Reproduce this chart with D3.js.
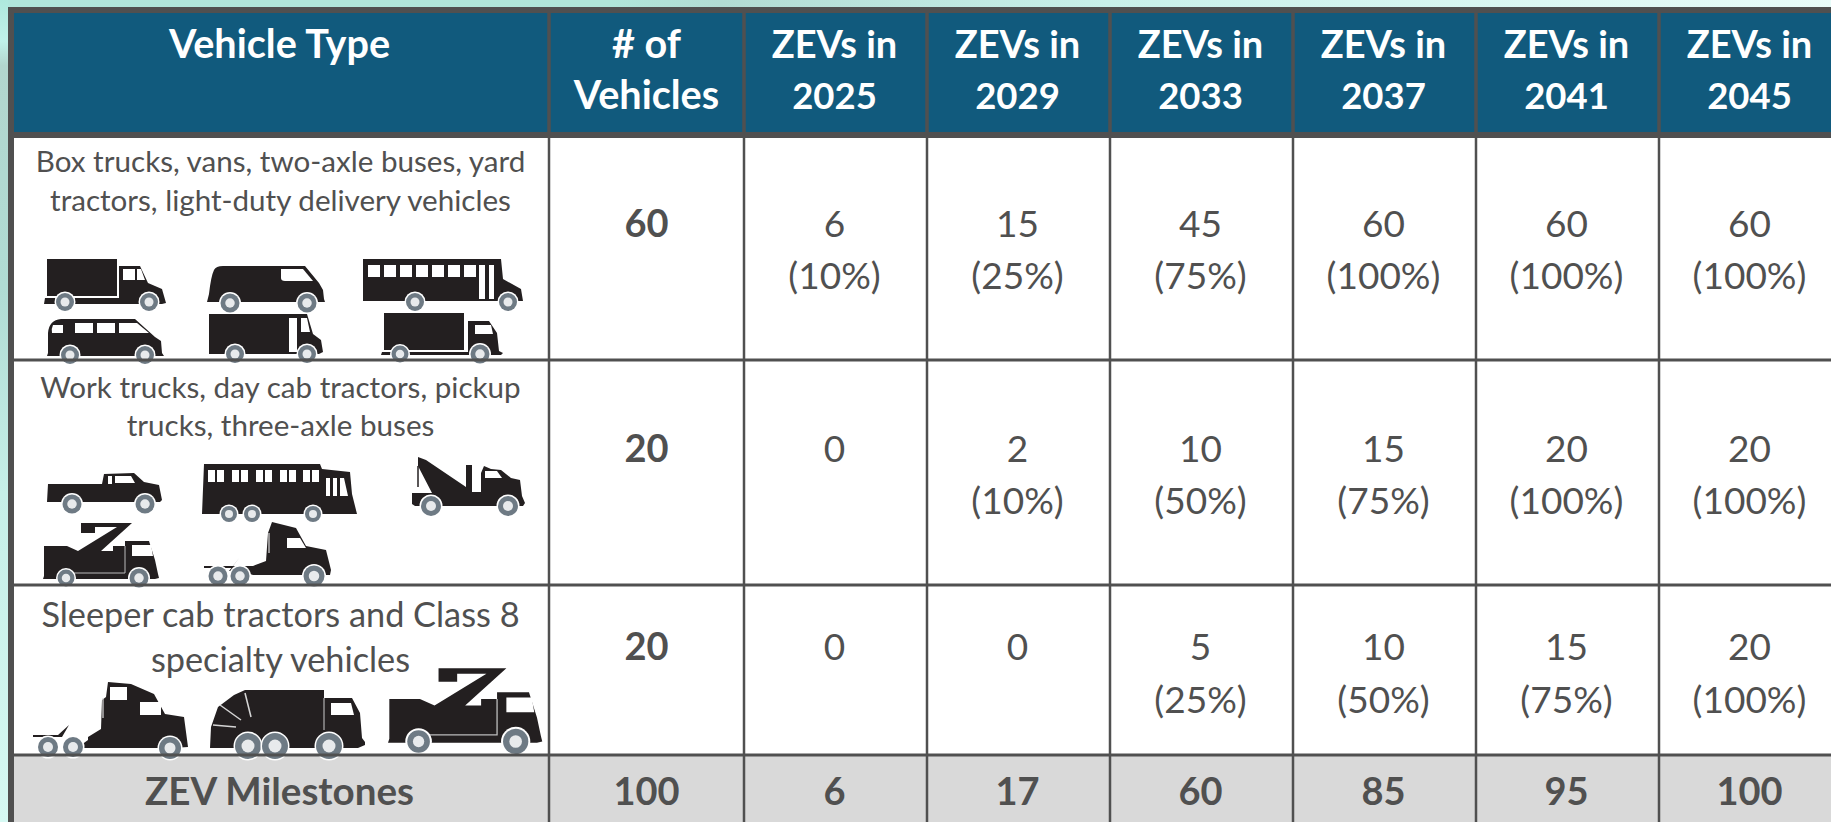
<!doctype html>
<html>
<head>
<meta charset="utf-8">
<title>ZEV Milestones</title>
<style>
  body { margin: 0; padding: 0; overflow: hidden; background: #c8f1ea; }
  svg { display: block; }
  text { font-family: Lato, "Open Sans", sans-serif; text-anchor: middle; fill: #505050; }
  .head { fill: #fff; font-weight: 700; font-size: 38px; }
  .headType { font-size: 39.6px; }
  .headYear { font-size: 36.5px; }
  .num { font-size: 37px; }
  .bold { font-weight: 700; font-size: 38px; }
  .label { font-weight: 700; font-size: 38.6px; }
  .type { font-size: 29.6px; }
  .type3 { font-size: 34.3px; }
</style>
</head>
<body>
<svg id="chart" width="1831" height="822"></svg>
<script src="https://d3js.org/d3.v7.min.js"></script>
<script>
var years = [2025, 2029, 2033, 2037, 2041, 2045];
var typeLines = [
    ["Box trucks, vans, two-axle buses, yard", "tractors, light-duty delivery vehicles"],
    ["Work trucks, day cab tractors, pickup", "trucks, three-axle buses"],
    ["Sleeper cab tractors and Class 8", "specialty vehicles"]
];
var fleet = [60, 20, 20];
var zevCounts = [
    [6, 15, 45, 60, 60, 60],
    [0, 2, 10, 15, 20, 20],
    [0, 0, 5, 10, 15, 20]
];
var zevPercents = [
    [10, 25, 75, 100, 100, 100],
    [null, 10, 50, 75, 100, 100],
    [null, null, 25, 50, 75, 100]
];
var totalLabel = "ZEV Milestones";
var totalFleet = 100;
var milestones = [6, 17, 60, 85, 95, 100];

var svg = d3.select("#chart");
var W = 1831, H = 822;

// background behind the table
var defs = svg.append("defs");
var bgGrad = defs.append("linearGradient").attr("id", "bg").attr("x1", 0).attr("y1", 0).attr("x2", 0).attr("y2", 1);
[["0%", "#aee8dd"], ["5%", "#c0f2ea"], ["8%", "#b2d6ce"], ["35%", "#b0dcd4"], ["60%", "#c6efe8"], ["100%", "#d6f9f3"]].forEach(function(s) {
    bgGrad.append("stop").attr("offset", s[0]).attr("stop-color", s[1]);
});
var topGrad = defs.append("linearGradient").attr("id", "bgTop");
[["0%", "#b0e6dc"], ["33%", "#b0e6da"], ["39%", "#b2dcd4"], ["60%", "#c8f0ea"], ["100%", "#e8fcf9"]].forEach(function(s) {
    topGrad.append("stop").attr("offset", s[0]).attr("stop-color", s[1]);
});
svg.append("rect").attr("width", W).attr("height", H).attr("fill", "url(#bg)");
svg.append("rect").attr("x", 8).attr("width", W).attr("height", 8).attr("fill", "url(#bgTop)");

// table layout
var x = d3.scaleBand().domain(years).range([744, 1842]);
var rowEdges = [135, 360, 585, 755, 830];
var typeX = (14 + 549) / 2;
var fleetX = (549 + 744) / 2;
var lineColor = "#505050";

// cell fills
svg.append("rect").attr("x", 11).attr("y", 10).attr("width", W).attr("height", H).attr("fill", "#fff");
svg.append("rect").attr("x", 11).attr("y", 10).attr("width", W).attr("height", rowEdges[0] - 10).attr("fill", "#115a7d");
svg.append("rect").attr("x", 11).attr("y", rowEdges[3]).attr("width", W).attr("height", H - rowEdges[3]).attr("fill", "#d9d9d9");

// icons are drawn in their own pixel box, then placed by bounding box
var DARK = "#231f20";
function wheels(g, list) {
    list.forEach(function(w) {
        g.append("circle").attr("cx", w[0]).attr("cy", w[1]).attr("r", w[2] + 1.5).attr("fill", "#fff");
        g.append("circle").attr("cx", w[0]).attr("cy", w[1]).attr("r", w[2]).attr("fill", "#6e7a84");
        g.append("circle").attr("cx", w[0]).attr("cy", w[1]).attr("r", w[2] * 0.5).attr("fill", "#e8eaec");
    });
}
function icon(w, h, body, windows, wheelList, creases) {
    return { w: w, h: h, body: body, windows: windows, wheels: wheelList, creases: creases };
}
function squares(startX, y, size, gap, n, h) {
    return d3.range(n).map(function(i) {
        var a = startX + i * (size + gap);
        return "M" + a + "," + y + "h" + size + "v" + (h || size) + "h-" + size + "z";
    }).join("");
}
var craneBody = "M38,1H89L58,29H70V24H82V19H106L112,38L115,52L116,56L112,57H0L1,54V24H24L35,29L74,5H52V11H38Z";
var icons = {
    boxTruck: icon(123, 52,
        "M3,0H73V37H3ZM75,37V7H96L104,24L118,30L122,44L118,45H0L1,39H75Z",
        "M79,10H91V21H79ZM93,10H97L101,21H93Z",
        [[21, 43, 9], [105, 43, 9]]),
    van: icon(118, 46,
        "M2,28Q4,10 7,4Q9,0 16,0H98L112,17L116,24L117,33L118,36H0Z",
        "M74,3H96L106,15H78Q74,15 74,12Z",
        [[23, 37, 9.5], [100, 37, 9.5]]),
    bus: icon(160, 52,
        "M0,0H138L140,20L158,30L160,42H0Z",
        squares(5, 6, 12, 4, 7) + "M116,6H122V40H116ZM126,6H131V40H126Z",
        [[52, 43, 9], [145, 43, 9]]),
    windowVan: icon(117, 44,
        "M1,34L1,14Q2,1 14,0H88L108,18L114,22L115,34L117,37H0Z",
        "M6,6H16V14H5Q4,10 6,6ZM28,4H46V14H28ZM50,4H68V14H50ZM72,4H90L102,14H72Z",
        [[23, 36, 9], [98, 36, 9]]),
    stepVan: icon(114, 48,
        "M0,0H98L104,20L112,26L114,38L110,40H0Z",
        "M80,4H88V38H80ZM92,4H98L101,18H92Z",
        [[26, 40, 9], [98, 40, 9]]),
    boxTruck2: icon(122, 49,
        "M3,0H83V37H3ZM87,8H108L116,20L118,38L122,40L120,42H0L1,39H87Z",
        "M94,12H110L112,21H94Z",
        [[19, 41, 8.5], [99, 41, 9.5]]),
    pickup: icon(114, 41,
        "M1,12H55L57,2L87,1L97,10L112,13L115,28L113,30H0Z",
        "M61,4H65V12H61ZM68,4H84L88,11H68Z",
        [[25, 32, 9.5], [98, 32, 9.5]]),
    bus3: icon(155, 58,
        "M2,0H118L120,5L148,8L150,30L155,50H0Z",
        squares(6, 6, 7, 2, 2, 12) + squares(30, 6, 7, 2, 2, 12) + squares(54, 6, 7, 2, 2, 12) + squares(78, 6, 7, 2, 2, 12) + squares(101, 6, 7, 2, 2, 12) + "M124,14H128V32H124ZM131,14H135V32H131ZM138,14H142L146,32H138Z",
        [[27, 50, 8], [50, 50, 8], [111, 50, 8]]),
    tow: icon(113, 60,
        "M6,0L14,3L54,30V8H60V35H69V16L72,9L79,12L89,13L99,21L108,23L110,39L113,46L111,49H3L0,47V36H20L6,9Z",
        "M73,14H85L90,21H73Z",
        [[19, 49, 10], [96, 49, 10]],
        [{ d: "M6,9V30", stroke: DARK, width: 1.5 }]),
    crane: icon(116, 63,
        craneBody,
        "M89,23H108L110,34H89Z",
        [[23, 56, 8.5], [96, 56, 9.5]],
        [{ d: "M82,24V51H20", stroke: "#bbb", width: 1 }]),
    dayCab: icon(127, 64,
        "M68,0L92,6L102,24L122,28L127,48L126,53H49L37,49H25L35,36L29,44H49L62,39L64,11Z M0,44H29V46H0Z",
        "M83,16H96L102,26H83Z",
        [[14, 54, 9.5], [36, 54, 9.5], [110, 54, 10.5]],
        [{ d: "M65,11V31", stroke: "#ddd", width: 1.2 }]),
    sleeper: icon(155, 76,
        "M75,0L98,2L121,12L132,32L151,35L155,65L140,66H44L55,58V55H29L36,43L25,53H0V55H55L68,47L69,18L73,15Z",
        "M77,5H94V18H77ZM107,20H128V33H107Z",
        [[15, 65, 10], [40, 65, 10], [137, 66, 11]],
        [{ d: "M70,16V36", stroke: "#ddd", width: 1.2 }]),
    garbage: icon(155, 68,
        "M0,58L1,37L8,17L24,5L35,0H114V8H142L150,23L152,48L155,52V55L148,58Z",
        "M121,13H141L144,25H121Z",
        [[38, 56, 13], [65, 56, 13], [119, 56, 13]],
        [{ d: "M35,3L41,27", stroke: "#d5d5d5", width: 1.5 },
         { d: "M10,15L31,30", stroke: "#d5d5d5", width: 1.5 },
         { d: "M3,35L26,37", stroke: "#d5d5d5", width: 1.5 },
         { d: "M114,8V40", stroke: "#ccc", width: 1 }])
};

var placements = [
    ["boxTruck", 44, 259], ["van", 207, 266], ["bus", 363, 259],
    ["windowVan", 47, 319], ["stepVan", 209, 314], ["boxTruck2", 381, 313],
    ["pickup", 47, 472], ["bus3", 202, 464], ["tow", 412, 457],
    ["crane", 43, 522], ["dayCab", 204, 522],
    ["sleeper", 33, 682], ["garbage", 210, 690], ["crane", 388, 667, 1.33]
];
placements.forEach(function(p) {
    var ic = icons[p[0]];
    var s = p[3] || 1;
    var g = svg.append("g").attr("transform", "translate(" + p[1] + "," + p[2] + ") scale(" + s + ")");
    g.append("path").attr("d", ic.body).attr("fill", DARK);
    g.append("path").attr("d", ic.windows).attr("fill", "#fff");
    (ic.creases || []).forEach(function(c) {
        g.append("path").attr("d", c.d).attr("stroke", c.stroke).attr("stroke-width", c.width).attr("fill", "none");
    });
    wheels(g, ic.wheels);
});

// grid lines
function hline(y, w) {
    svg.append("line").attr("x1", 8).attr("x2", W).attr("y1", y).attr("y2", y).attr("stroke", lineColor).attr("stroke-width", w);
}
function vline(px, y1, y2, w) {
    svg.append("line").attr("x1", px).attr("x2", px).attr("y1", y1).attr("y2", y2).attr("stroke", lineColor).attr("stroke-width", w);
}
hline(10, 6);
hline(135, 6);
hline(rowEdges[1], 3);
hline(rowEdges[2], 3);
hline(rowEdges[3], 3);
vline(11, 7, H, 6);
[549].concat(years.map(function(y) { return x(y); })).forEach(function(px) {
    vline(px, 7, 135, 3.5);
    vline(px, 135, H, 2.5);
});

// header
svg.append("text").attr("class", "head headType").attr("x", typeX - 2).attr("y", 58).text("Vehicle Type");
svg.append("text").attr("class", "head headType").attr("x", fleetX).attr("y", 58).text("# of");
svg.append("text").attr("class", "head headType").attr("x", fleetX).attr("y", 109).text("Vehicles");
years.forEach(function(y) {
    var cx = x(y) + x.bandwidth() / 2 - 1;
    svg.append("text").attr("class", "head").attr("x", cx).attr("y", 58).text("ZEVs in");
    svg.append("text").attr("class", "head headYear").attr("x", cx).attr("y", 109).text(y);
});

// body rows
var typeBase = [[172, 211], [398, 436], [627, 672]];
var fleetBase = [237, 462, 660];
var pctBase = [289, 514, 713];
typeLines.forEach(function(lines, r) {
    lines.forEach(function(t, i) {
        svg.append("text").attr("class", r === 2 ? "type3" : "type").attr("x", typeX - 1).attr("y", typeBase[r][i]).text(t);
    });
    svg.append("text").attr("class", "bold").attr("x", fleetX).attr("y", fleetBase[r]).text(fleet[r]);
    years.forEach(function(y, c) {
        var cx = x(y) + x.bandwidth() / 2 - 1;
        svg.append("text").attr("class", "num").attr("x", cx).attr("y", fleetBase[r]).text(zevCounts[r][c]);
        if (zevPercents[r][c] !== null) {
            svg.append("text").attr("class", "num").attr("x", cx).attr("y", pctBase[r]).text("(" + zevPercents[r][c] + "%)");
        }
    });
});

// total row
svg.append("text").attr("class", "label").attr("x", typeX - 2).attr("y", 805).text(totalLabel);
svg.append("text").attr("class", "bold").attr("x", fleetX).attr("y", 805).text(totalFleet);
years.forEach(function(y, c) {
    svg.append("text").attr("class", "bold").attr("x", x(y) + x.bandwidth() / 2 - 1).attr("y", 805).text(milestones[c]);
});
</script>
</body>
</html>
